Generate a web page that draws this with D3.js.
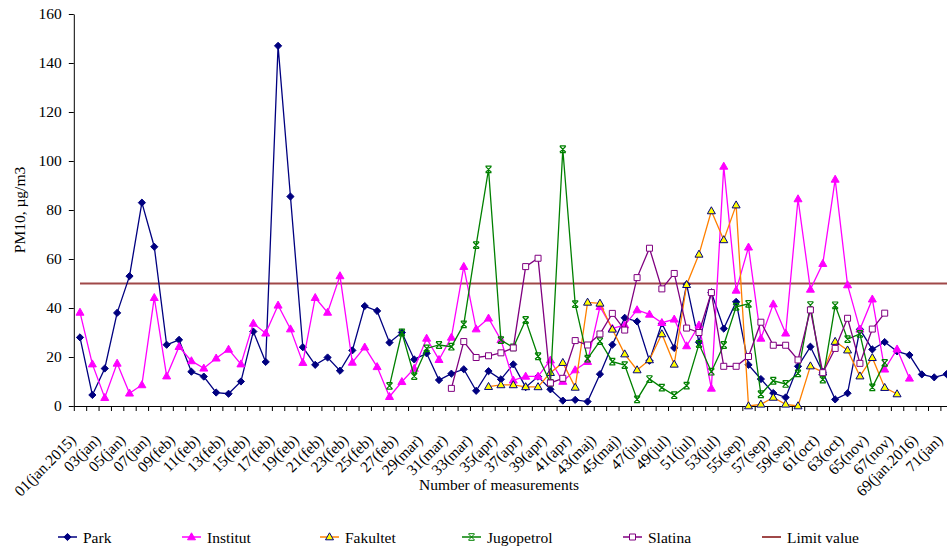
<!DOCTYPE html>
<html><head><meta charset="utf-8">
<script src="https://cdn.jsdelivr.net/npm/d3@7"></script>
<style>
body{margin:0;background:#fff;}
svg{display:block;font-family:"Liberation Serif","Times New Roman",serif;}
</style></head><body>
<svg id="chart" width="947" height="552"></svg>
<script>
const categories = d3.range(1, 72);
const tickLabels = ["01(jan.2015)","03(jan)","05(jan)","07(jan)","09(feb)","11(feb)","13(feb)","15(feb)","17(feb)","19(feb)","21(feb)","23(feb)","25(feb)","27(feb)","29(mar)","31(mar)","33(mar)","35(apr)","37(apr)","39(apr)","41(apr)","43(maj)","45(maj)","47(jul)","49(jul)","51(jul)","53(jul)","55(sep)","57(sep)","59(sep)","61(oct)","63(oct)","65(nov)","67(nov)","69(jan.2016)","71(jan)"];
const yTicks = [0,20,40,60,80,100,120,140,160];
const N = null;

const park = [28,4.5,15.3,38,53,83,65,25,27,14,12,5.5,5,10,30.4,18,147,85.5,24,16.8,19.8,14.4,22.7,40.8,38.8,25.9,30,19,21.5,10.6,13.2,15,6.2,14.2,10.9,17,7.7,12,6.8,2.2,2.5,1.8,13,25,36,34.5,18.5,33.7,23.7,49.6,26,46.4,31.6,42.5,16.8,11,5.3,3.5,16.2,24.2,13.8,2.7,5.2,31.3,23.1,26.1,22.3,20.8,12.9,11.7,13];
const institut = [38.2,17.1,3.4,17.4,5.2,8.6,44.2,12.2,24.2,18.4,15.4,19.5,23.1,17.1,33.7,29.7,41.1,31.4,17.7,44.2,38.2,53.1,17.8,24,16,3.8,9.9,15.3,27.6,18.9,28,56.9,31.4,35.8,27,10.5,12.1,12.1,18.7,10,14.7,18.1,40.5,31.7,33,39.2,37.4,34,35.4,24.5,33,7.2,97.8,47.2,64.8,27.6,41.6,29.7,84.5,47.6,58.1,92.5,49.4,31.3,43.6,15,23.2,11.3,N,N,N];
const fakultet = [N,N,N,N,N,N,N,N,N,N,N,N,N,N,N,N,N,N,N,N,N,N,N,N,N,N,N,N,N,N,N,N,N,7.9,8.6,8.6,7.8,7.8,13.6,17.7,7.6,42.3,41.9,31.3,21.2,14.7,18.8,29.4,17,49.5,61.9,79.6,67.8,82,0,0.7,3.5,0.7,0,16.3,13.8,26.3,22.8,12.2,19.7,7.5,4.9,N,N,N,N];
const jugopetrol = [N,N,N,N,N,N,N,N,N,N,N,N,N,N,N,N,N,N,N,N,N,N,N,N,N,8.2,30,12.2,23.5,24.9,24.2,33.3,65.7,96.6,26.9,23.9,35.1,20.3,9.4,104.8,41.6,19.3,26.5,18.1,16.7,2.7,11,7.5,4.4,8.3,25.3,14,24.9,40.5,41.7,4.8,10.3,9,13.3,41.2,10.8,41.1,27.3,29.4,7.6,17.6,N,N,N,N,N];
const slatina = [N,N,N,N,N,N,N,N,N,N,N,N,N,N,N,N,N,N,N,N,N,N,N,N,N,N,N,N,N,N,7.2,26.3,19.8,20.5,21.7,23.7,56.9,60.3,9.4,11.3,26.7,24.9,29.4,37.8,31,52.4,64.4,47.8,54.1,31.8,30,46.3,16.2,16.2,20.2,34.2,24.8,24.8,18.8,39.2,13.6,23.5,35.8,17.4,31.4,37.9,N,N,N,N,N];
const limitValue = 50;
const seriesNames = ["Park","Institut","Fakultet","Jugopetrol","Slatina","Limit value"];

// styling
const styles = {
  "Park":       {line:"#000080", marker:"diamond",  fill:"#000080", stroke:"#000080"},
  "Institut":   {line:"#FF00FF", marker:"triangle", fill:"#FF00FF", stroke:"#FF00FF"},
  "Fakultet":   {line:"#FF8000", marker:"triangle", fill:"#FFFF00", stroke:"#000080"},
  "Jugopetrol": {line:"#008000", marker:"x",        fill:"none",    stroke:"#008000"},
  "Slatina":    {line:"#800080", marker:"square",   fill:"#FFFFFF", stroke:"#800080"},
  "Limit value":{line:"#A04848", marker:null}
};
const markerPaths = {
  diamond: "M0,-3.6L3.6,0L0,3.6L-3.6,0Z",
  triangle: "M0,-4.2L4,2.8L-4,2.8Z",
  square: "M-3,-3H3V3H-3Z",
  x: "M-3,-3L3,3M3,-3L-3,3M-3,-3.3H3M-3,3.3H3"
};

const svg = d3.select("#chart");
const x0 = 73.8, x1 = 73.8 + 71*12.38;
const x = d3.scaleBand().domain(categories).range([x0, x1]).paddingInner(0).paddingOuter(0);
const xEdge = d3.scaleLinear().domain([0, 71]).range([x0, x1]);
const y = d3.scaleLinear().domain([0, 160]).range([406, 14]);
const cx = c => x(c) + x.bandwidth()/2;

// y axis
const yAxis = svg.append("g").attr("transform", `translate(${x0},0)`)
  .call(d3.axisLeft(y).tickValues(yTicks).tickSize(5).tickSizeOuter(0).tickPadding(7));
yAxis.select(".domain").attr("stroke", "#000");
yAxis.selectAll("text").attr("font-family", "Liberation Serif").attr("font-size", "15.5px").attr("fill", "#000");

// x axis ticks at category edges
const xAxis = svg.append("g").attr("transform", "translate(0,406)")
  .call(d3.axisBottom(xEdge).tickValues(d3.range(0, 72)).tickSize(5).tickSizeOuter(0).tickFormat(""));
xAxis.select(".domain").attr("stroke", "#000");

// x labels
const oddCats = categories.filter(c => c % 2 === 1);
const xLab = svg.append("g").attr("transform", "translate(0,406)")
  .call(d3.axisBottom(x).tickValues(oddCats).tickSize(0).tickFormat((d, i) => tickLabels[i]));
xLab.select(".domain").remove();
xLab.selectAll("text")
  .attr("font-family", "Liberation Serif").attr("font-size", "15.5px").attr("fill", "#000")
  .attr("text-anchor", "end").attr("dy", null).attr("y", 0)
  .attr("transform", "translate(-3,35) rotate(-45)");

// axis titles
svg.append("text").attr("x", 499).attr("y", 490).attr("text-anchor", "middle")
  .attr("font-size", "15.5px").text("Number of measurements");
svg.append("text").attr("transform", "translate(25,210) rotate(-90)").attr("text-anchor", "middle")
  .attr("font-size", "15.5px").text("PM10, µg/m3");

// limit line
svg.append("line").attr("x1", cx(1)).attr("x2", 960)
  .attr("y1", y(limitValue)).attr("y2", y(limitValue))
  .attr("stroke", styles["Limit value"].line).attr("stroke-width", 2);

const seriesData = {"Park": park, "Institut": institut, "Fakultet": fakultet, "Jugopetrol": jugopetrol, "Slatina": slatina};
const line = d3.line().defined(d => d.v != null).x(d => cx(d.c)).y(d => y(d.v));

Object.keys(seriesData).forEach(name => {
  const st = styles[name];
  const pts = seriesData[name].map((v, i) => ({c: categories[i], v}));
  const g = svg.append("g");
  g.append("path").datum(pts).attr("d", line).attr("fill", "none")
    .attr("stroke", st.line).attr("stroke-width", 1.3);
  g.selectAll("path.m").data(pts.filter(d => d.v != null)).join("path").attr("class", "m")
    .attr("d", markerPaths[st.marker])
    .attr("transform", d => `translate(${cx(d.c)},${y(d.v)})`)
    .attr("fill", st.fill).attr("stroke", st.stroke).attr("stroke-width", st.marker === "x" ? 1.2 : 1);
});

// legend
const legendX = [58, 182, 320, 462, 623, 762];
const lg = svg.append("g").attr("transform", "translate(0,537)");
seriesNames.forEach((name, i) => {
  const st = styles[name];
  const g = lg.append("g").attr("transform", `translate(${legendX[i]},0)`);
  g.append("line").attr("x1", 0).attr("x2", 19).attr("y1", 0).attr("y2", 0)
    .attr("stroke", st.line).attr("stroke-width", name === "Limit value" ? 2 : 1.5);
  if (st.marker) {
    g.append("path").attr("d", markerPaths[st.marker]).attr("transform", "translate(9.5,0)")
      .attr("fill", st.fill).attr("stroke", st.stroke).attr("stroke-width", 1);
  }
  g.append("text").attr("x", 25).attr("y", 5.5).attr("font-size", "15.5px").text(name);
});
</script>
</body></html>
